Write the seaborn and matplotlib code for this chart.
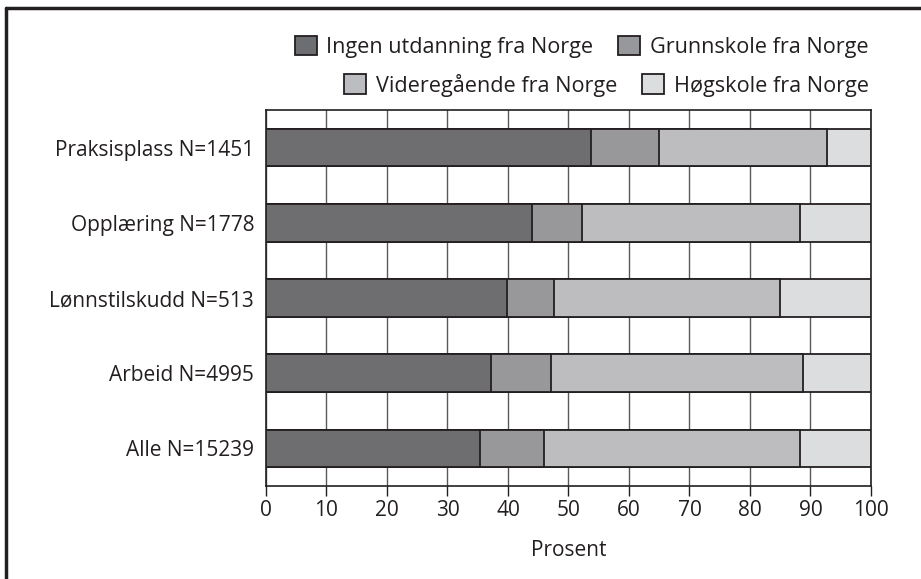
import numpy as np
import pandas as pd
import seaborn as sns
import matplotlib.pyplot as plt
from matplotlib.patches import Patch

# data (percent)
categories = ['Praksisplass N=1451', 'Opplæring N=1778', 'Lønnstilskudd N=513',
              'Arbeid N=4995', 'Alle N=15239']
ingen = [53.8, 44.0, 39.8, 37.2, 35.3]
grunnskole = [11.2, 8.3, 7.8, 9.9, 10.7]
videregaende = [27.7, 35.9, 37.4, 41.6, 42.2]
hogskole = [7.3, 11.8, 15.0, 11.3, 11.8]

series_names = ['Ingen utdanning fra Norge', 'Grunnskole fra Norge',
                'Videregående fra Norge', 'Høgskole fra Norge']
colors = ['#6d6e71', '#97989b', '#bcbdc0', '#dcddde']
edge = '#231f20'
fs = 15

sns.set_style('white')
plt.rcParams['font.family'] = ['Open Sans', 'DejaVu Sans']

df = pd.DataFrame({'kategori': categories, 'a': ingen, 'b': grunnskole,
                   'c': videregaende, 'd': hogskole})
cum = df[['a', 'b', 'c', 'd']].cumsum(axis=1)

fig = plt.figure(figsize=(9.21, 5.79), dpi=100)
ax = fig.add_axes([0.2888, 0.1605, 0.6569, 0.6495])

# stacked bars: draw the cumulative totals from the widest down
for col, c in zip(['d', 'c', 'b', 'a'], colors[::-1]):
    sns.barplot(x=cum[col], y=df['kategori'], orient='h', color=c,
                edgecolor=edge, linewidth=1.3, width=0.5, ax=ax, zorder=3)

ax.set_xlim(0, 100)
ax.set_ylim(4.5, -0.5)
ax.set_xticks(np.arange(0, 101, 10))
ax.xaxis.grid(True, color='#58595b', linewidth=1.0, zorder=0)
ax.set_axisbelow(True)
ax.tick_params(axis='x', bottom=True, length=7, width=1, color='#231f20',
               labelsize=fs, colors='#231f20', pad=3)
ax.tick_params(axis='y', left=False, labelsize=fs, colors='#231f20', pad=5)
for s in ax.spines.values():
    s.set_color('#231f20')
    s.set_linewidth(1.2)
ax.set_xlabel('Prosent', fontsize=fs, color='#231f20', labelpad=14)
ax.set_ylabel('')

handles = [Patch(facecolor=c, edgecolor=edge, linewidth=1.3, label=n)
           for c, n in zip(colors, series_names)]
leg_kw = dict(ncol=2, frameon=False, fontsize=15.6, handlelength=1.0,
              handleheight=1.0, handletextpad=0.45, columnspacing=1.15,
              borderaxespad=0, borderpad=0, labelcolor='#231f20')
fig.legend(handles=handles[:2], loc='upper right',
           bbox_to_anchor=(0.943, 0.938), **leg_kw)
fig.legend(handles=handles[2:], loc='upper right',
           bbox_to_anchor=(0.943, 0.873), **leg_kw)

# frame line along the top and left of the figure
fig.add_artist(plt.Line2D([0.0065, 1.0], [0.986, 0.986], color='#231f20',
                          linewidth=2.5, transform=fig.transFigure))
fig.add_artist(plt.Line2D([0.0065, 0.0065], [0.0, 0.986], color='#231f20',
                          linewidth=2.5, transform=fig.transFigure))

fig.savefig('out.png', dpi=100)
